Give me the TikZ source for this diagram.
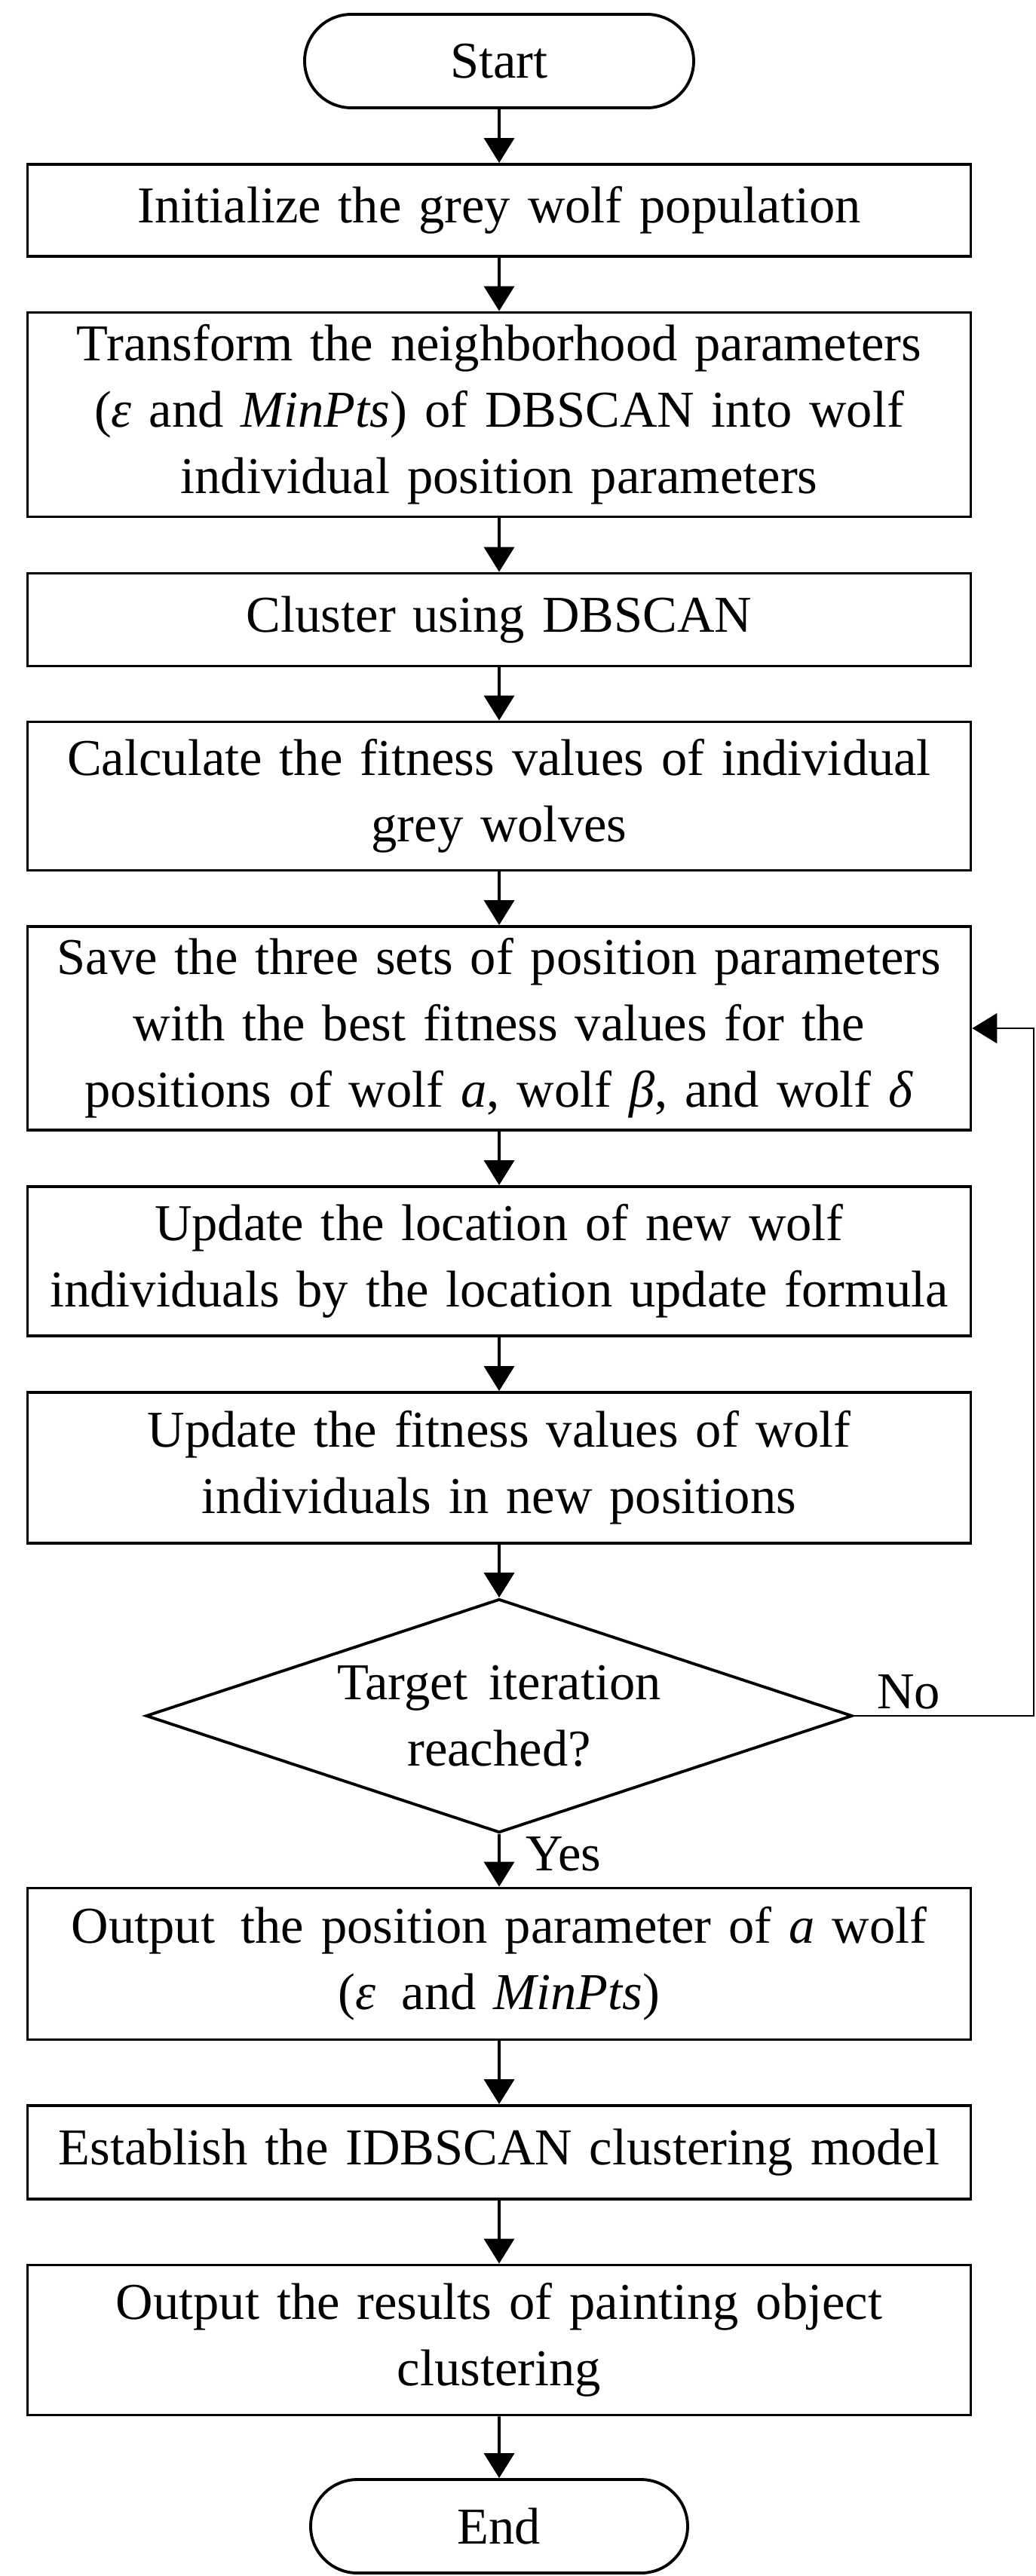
\documentclass[tikz,border=0pt]{standalone}
\usepackage{fontspec}
\setmainfont{Liberation Serif}
\usetikzlibrary{shapes.geometric, shapes.misc, arrows.meta}

\tikzset{
  box/.style={draw, line width=1.1pt, minimum width=12.51cm, text width=12.4cm, align=center, inner sep=0pt},
  term/.style={draw, line width=1.1pt, rounded rectangle, minimum height=1.24cm, inner sep=0pt},
  cond/.style={draw, line width=1.1pt, diamond, shape aspect=3, minimum width=9.37cm, minimum height=3.1cm, inner sep=0pt, align=center},
  flow/.style={line width=1.1pt, -{Triangle[width=0.4cm, length=0.33cm]}},
}

\begin{document}
\begin{tikzpicture}[font=\fontsize{19.5}{25}\selectfont]
\useasboundingbox (0,0) rectangle (13.73,-34.17);

%Nodos
\node[term, minimum width=5.16cm] (start) at (6.62,-0.81) {Start};
\node[box, minimum height=1.22cm] (init) at (6.62,-2.79) {Initialize the grey wolf population};
\node[box, minimum height=2.71cm] (trans) at (6.62,-5.50) {Transform the neighborhood parameters\\ (\textit{ε} and \textit{MinPts}) of DBSCAN into wolf\\ individual position parameters};
\node[box, minimum height=1.23cm] (clus) at (6.62,-8.22) {Cluster using DBSCAN};
\node[box, minimum height=1.97cm] (calc) at (6.62,-10.56) {Calculate the fitness values of individual\\ grey wolves};
\node[box, minimum height=2.70cm] (save) at (6.62,-13.64) {Save the three sets of position parameters\\ with the best fitness values for the\\ positions of wolf \textit{a}, wolf \textit{β}, and wolf \textit{δ}};
\node[box, minimum height=1.98cm] (upd) at (6.62,-16.73) {Update the location of new wolf\\ individuals by the location update formula};
\node[box, minimum height=2.00cm] (fit) at (6.62,-19.47) {Update the fitness values of wolf\\ individuals in new positions};
\node[cond] (iter) at (6.62,-22.76) {Target\, iteration\\ reached?};
\node[box, minimum height=2.01cm] (out) at (6.62,-26.05) {Output\, the position parameter of \textit{a} wolf\\ (\textit{ε}\, and \textit{MinPts})};
\node[box, minimum height=1.24cm] (est) at (6.62,-28.55) {Establish the IDBSCAN clustering model};
\node[box, minimum height=1.99cm] (res) at (6.62,-31.04) {Output the results of painting object\\ clustering};
\node[term, minimum width=5.0cm] (end) at (6.62,-33.51) {End};

%Flechas
\draw[flow] (start) -- (init);
\draw[flow] (init) -- (trans);
\draw[flow] (trans) -- (clus);
\draw[flow] (clus) -- (calc);
\draw[flow] (calc) -- (save);
\draw[flow] (save) -- (upd);
\draw[flow] (upd) -- (fit);
\draw[flow] (fit) -- (iter);
\draw[flow] (iter) -- (out);
\draw[flow] (out) -- (est);
\draw[flow] (est) -- (res);
\draw[flow] (res) -- (end);

%Retorno
\coordinate (back) at (13.71,-22.76);
\draw[line width=0.5pt, -{Triangle[width=0.4cm, length=0.33cm]}] (iter.east) -- (back) |- (save.east);
\node[anchor=south] (no) at (12.05,-22.80) {No};
\node[anchor=west] (yes) at (6.85,-24.59) {Yes};
\end{tikzpicture}
\end{document}
